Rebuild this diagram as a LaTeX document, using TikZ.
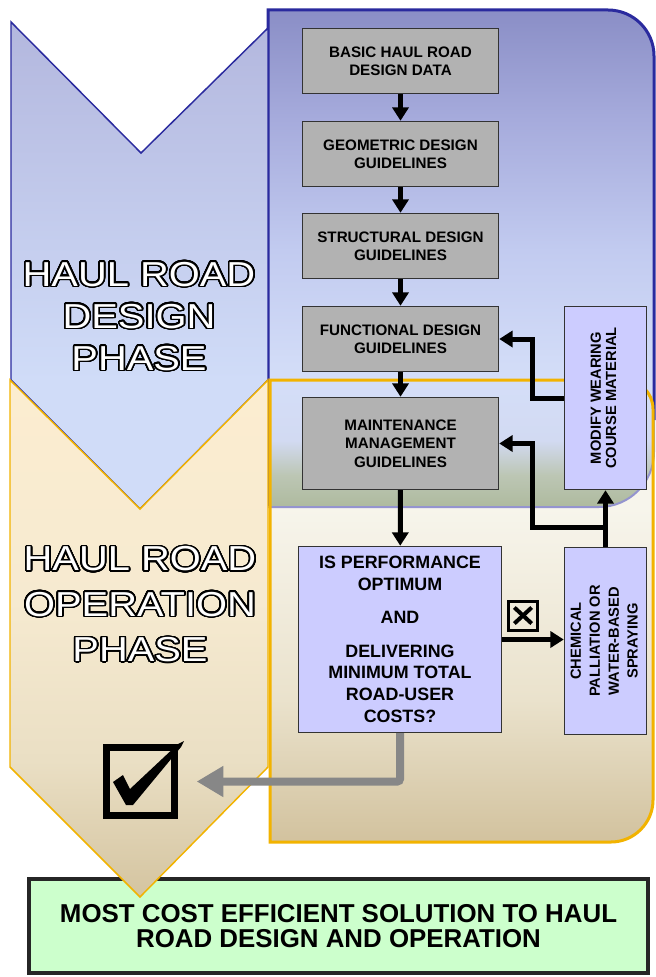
\documentclass[tikz,border=0pt]{standalone}
\usepackage{fontspec}
\setmainfont{Liberation Sans}
\usepackage{graphicx}
\usepackage{contour}
\usetikzlibrary{arrows.meta}
\contourlength{1.1pt}
\contournumber{32}

\definecolor{guidegray}{HTML}{B2B2B2}
\definecolor{querylilac}{HTML}{CCCCFF}
\definecolor{resultgreen}{HTML}{CCFFCC}
\definecolor{designblue}{HTML}{2A2A9E}
\definecolor{operorange}{HTML}{F2B300}
% panel and chevron gradients
\definecolor{dpA}{HTML}{AEBA9E}\definecolor{dpB}{HTML}{BCC6B4}\definecolor{dpC}{HTML}{D2DAF2}
\definecolor{dpD}{HTML}{D4DEF8}\definecolor{dpE}{HTML}{C2CBF0}\definecolor{dpF}{HTML}{A6ABDC}
\definecolor{dpG}{HTML}{8A8EC6}
\definecolor{opA}{HTML}{D2C29E}\definecolor{opB}{HTML}{EAE2CC}\definecolor{opC}{HTML}{F7F5EC}
\definecolor{dcA}{HTML}{D0DCF8}\definecolor{dcB}{HTML}{B3B7DE}
\definecolor{tcA}{HTML}{D4C4A0}\definecolor{tcB}{HTML}{EADFC4}\definecolor{tcC}{HTML}{F6EAD0}\definecolor{tcD}{HTML}{FCEDD0}

\pgfdeclareverticalshading{designpanel}{100bp}{color(0bp)=(dpA); color(25bp)=(dpA); color(28.2bp)=(dpB); color(31.7bp)=(dpC); color(37.8bp)=(dpD); color(50.8bp)=(dpE); color(64bp)=(dpF); color(75bp)=(dpG); color(100bp)=(dpG)}
\pgfdeclareverticalshading{operpanel}{100bp}{color(0bp)=(opA); color(25bp)=(opA); color(40.4bp)=(opB); color(61.3bp)=(opC); color(100bp)=(opC)}
\pgfdeclareverticalshading{designchev}{100bp}{color(0bp)=(dcA); color(38.2bp)=(dcA); color(75bp)=(dcB); color(100bp)=(dcB)}
\pgfdeclareverticalshading{operchev}{100bp}{color(0bp)=(tcA); color(25bp)=(tcA); color(38.2bp)=(tcB); color(53.7bp)=(tcC); color(75bp)=(tcD); color(100bp)=(tcD)}

\newcommand{\phasetxt}[1]{\contour{black}{#1}}
\newcommand{\vtext}[1]{\rotatebox{90}{\begin{tabular}{@{}c@{}}#1\end{tabular}}}

\begin{document}
\begin{tikzpicture}[x=0.75pt,y=-0.75pt,
    guide/.style={draw=black!80, fill=guidegray, line width=1.1pt, minimum width=147pt,
      minimum height=48.75pt, inner sep=0pt, align=center,
      font=\fontsize{11.4}{13.7}\selectfont\bfseries},
    query/.style={draw=black!80, fill=querylilac, line width=1.1pt, inner sep=0pt, align=center},
    flow/.style={line width=3.75pt, -{Triangle[length=10pt,width=12pt]}},
    okflow/.style={draw=black!47, line width=6pt, rounded corners=2pt,
      -{Triangle[length=20pt,width=22pt]}},
    phase/.style={text=white, align=center, xscale=1.15, font=\fontsize{26}{31.5}\selectfont}]

    \fill[white] (0,0) rectangle (656,977);
    \useasboundingbox (0,0) rectangle (656,977);

    % operation panel (behind) and design panel
    \shade[shading=operpanel] (270,380) -- (624,380) .. controls (640,380) and (653,393) .. (653,409)
      -- (653,800) .. controls (653,823) and (634,842) .. (611,842) -- (270,842) -- cycle;
    \shade[shading=designpanel] (268,10) -- (608,10) .. controls (633.4,10) and (654,30.6) .. (654,56)
      -- (654,452) .. controls (654,482.4) and (629.4,507) .. (599,507) -- (268,507) -- cycle;
    \draw[designblue, line width=2.25pt] (268,507) -- (268,10) -- (608,10)
      .. controls (633.4,10) and (654,30.6) .. (654,56) -- (654,420);
    \draw[designblue!50, line width=1.5pt] (654,420) -- (654,452)
      .. controls (654,482.4) and (629.4,507) .. (599,507) -- (268,507);
    \draw[operorange, line width=2.25pt] (270,380) -- (624,380) .. controls (640,380) and (653,393) .. (653,409)
      -- (653,800) .. controls (653,823) and (634,842) .. (611,842) -- (270,842) -- cycle;

    % design phase chevron
    \shade[shading=designchev, draw=designblue, line width=1.1pt]
      (11,22) -- (141,153) -- (268,28) -- (268,380) -- (140,509) -- (11,380) -- cycle;

    % final outcome
    \node[draw=black!85, line width=3pt, fill=resultgreen, minimum width=464pt, minimum height=70.5pt,
      align=center, font=\fontsize{19.4}{18.75}\selectfont\bfseries] (result) at (338.5,926)
      {MOST COST EFFICIENT SOLUTION TO HAUL\\ROAD DESIGN AND OPERATION};

    % operation phase chevron
    \shade[shading=operchev, draw=operorange, line width=1.1pt]
      (10,380) -- (140,509) -- (268,380) -- (268,767) -- (140,897) -- (10,767) -- cycle;

    % phase labels
    \node[phase] (designtxt) at (139,317) {\phasetxt{HAUL ROAD}\\\phasetxt{DESIGN}\\\phasetxt{PHASE}};
    \node[phase, font=\fontsize{26}{34}\selectfont] (opertxt) at (140,605)
      {\phasetxt{HAUL ROAD}\\\phasetxt{OPERATION}\\\phasetxt{PHASE}};

    % design guideline boxes
    \node[guide] (basic) at (400.5,61) {BASIC HAUL ROAD\\DESIGN DATA};
    \node[guide] (geometric) at (400.5,154) {GEOMETRIC DESIGN\\GUIDELINES};
    \node[guide] (structural) at (400.5,246) {STRUCTURAL DESIGN\\GUIDELINES};
    \node[guide] (functional) at (400.5,339) {FUNCTIONAL DESIGN\\GUIDELINES};
    \node[guide, minimum height=69pt, font=\fontsize{11.4}{14}\selectfont\bfseries] (maint) at (400.5,443.5)
      {MAINTENANCE\\MANAGEMENT\\GUIDELINES};

    % check and remedial actions
    \node[query, minimum width=152.25pt, minimum height=139.5pt,
      font=\fontsize{13.4}{16.3}\selectfont\bfseries] (perf) at (400,639.5)
      {IS PERFORMANCE\\OPTIMUM\\[8.7pt]AND\\[8.7pt]DELIVERING\\MINIMUM TOTAL\\ROAD-USER\\COSTS?};
    \node[query, minimum width=61.5pt, minimum height=140.25pt,
      font=\fontsize{11}{14.2}\selectfont\bfseries] (chem) at (605.5,641)
      {\vtext{CHEMICAL\\PALLIATION OR\\WATER-BASED\\SPRAYING}};
    \node[query, minimum width=61.5pt, minimum height=137.25pt,
      font=\fontsize{11}{11.5}\selectfont\bfseries] (modify) at (605.5,398)
      {\vtext{MODIFY WEARING\\COURSE MATERIAL}};

    \node[draw, line width=2.25pt, minimum size=21.75pt, inner sep=0pt] (xmk) at (523,615.5) {};
    \draw[line width=3pt] ([shift={(-6.5pt,6pt)}]xmk.center) -- ([shift={(6.5pt,-6pt)}]xmk.center)
      ([shift={(-6.5pt,-6pt)}]xmk.center) -- ([shift={(6.5pt,6pt)}]xmk.center);

    \node[draw, line width=5.25pt, minimum size=51pt, inner sep=0pt] (chk) at (140.5,781.5) {};
    \fill (113,782) -- (123,775) -- (130,789) -- (178,744) -- (184,741) -- (181,747)
      -- (133,805) -- (126,805) -- cycle;

    % connectors
    \draw[flow] (basic) -- (geometric);
    \draw[flow] (geometric) -- (structural);
    \draw[flow] (structural) -- (functional);
    \draw[flow] (functional) -- (maint);
    \draw[flow] (maint) -- (perf);
    \draw[flow] (perf.east) -- (perf.east -| chem.west);
    \draw[flow] (chem.north) -- (modify.south);
    \draw[flow] (chem.north) -- ++(0,-19) -| ([xshift=25pt]maint.east) -- (maint.east);
    \draw[flow] (modify.west) -| ([xshift=25pt]functional.east) -- (functional.east);
    \draw[okflow, shorten >=14pt] (perf.south) |- (chk.east);

\end{tikzpicture}
\end{document}
